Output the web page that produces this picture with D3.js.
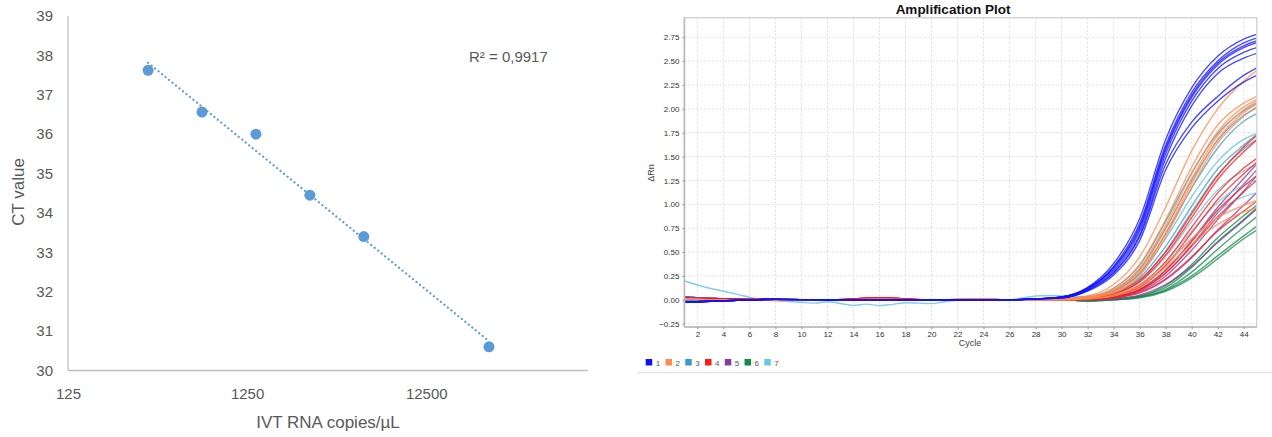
<!DOCTYPE html>
<html lang="en">
<head>
<meta charset="UTF-8">
<title>CT standard curve and amplification plot</title>
<style>
    body { margin: 0; background: #fff; }
    svg { display: block; }
    .xl text, .yl text { font-family: "Liberation Sans", Arial, sans-serif; font-size: 15px; fill: #595959; }
    .ax text { font-family: "Liberation Sans", Arial, sans-serif; font-size: 8px; fill: #333; }
    .grid line { stroke: #dcdcdc; stroke-dasharray: 2,2; }
</style>
</head>
<body>
<svg width="1272" height="437"></svg>
<script src="https://d3js.org/d3.v7.min.js"></script>
<script>
    // ---- left: standard curve ----
    var copies = [350, 700, 1400, 2800, 5600, 28000];
    var ctValues = [37.62, 36.56, 36.0, 34.45, 33.4, 30.6];
    var ctTicks = [30, 31, 32, 33, 34, 35, 36, 37, 38, 39];
    var copyTicks = [125, 1250, 12500];

    // ---- right: amplification plot ----
    var legendIds = [1, 2, 3, 4, 5, 6, 7];
    var groupColors = ["#1010ff", "#ff8a4c", "#3a9cc8", "#ff1a1a", "#8a3b9c", "#138a4a", "#6cc6e6"];

    var baseCycles = [1, 4, 8, 12, 16, 20, 24, 26];
    var ampCycles = [28, 30, 32, 34, 36, 38, 40, 42, 44, 45];

    var base1 = [-0.025, -0.01, 0.005, 0, 0, 0, 0, 0];
    var base2 = [0.01, 0, 0, 0, 0.005, 0, 0.01, 0];
    var base3 = [0, 0, 0, 0, 0, 0, 0, 0];
    var base4 = [0.015, 0.005, 0.005, 0, 0.02, 0, 0, 0];
    var base5 = [0.03, 0.01, 0, 0, 0.01, 0, 0, 0];
    var base6 = [0.005, 0, 0, 0, 0, 0, 0, 0];
    var base7 = [0, 0, 0, 0, 0, 0, 0, 0];

    var curves1 = [
        [0.01, 0.03, 0.13, 0.38, 0.85, 1.68, 2.22, 2.55, 2.73, 2.78],
        [0.01, 0.03, 0.12, 0.35, 0.80, 1.62, 2.17, 2.50, 2.69, 2.74],
        [0.01, 0.03, 0.12, 0.34, 0.77, 1.59, 2.14, 2.48, 2.66, 2.71],
        [0.01, 0.03, 0.12, 0.33, 0.75, 1.57, 2.12, 2.46, 2.64, 2.69],
        [0.01, 0.02, 0.11, 0.31, 0.72, 1.53, 2.08, 2.42, 2.59, 2.64],
        [0.01, 0.02, 0.10, 0.29, 0.68, 1.48, 2.03, 2.37, 2.53, 2.58],
        [0.01, 0.02, 0.10, 0.28, 0.66, 1.42, 1.86, 2.13, 2.35, 2.43],
        [0.01, 0.02, 0.09, 0.26, 0.62, 1.36, 1.80, 2.08, 2.28, 2.35]
    ];
    var curves2 = [
        [0, 0.01, 0.04, 0.16, 0.45, 0.97, 1.56, 2.00, 2.29, 2.40],
        [0, 0.01, 0.03, 0.12, 0.37, 0.84, 1.39, 1.83, 2.06, 2.13],
        [0, 0.01, 0.03, 0.10, 0.33, 0.78, 1.32, 1.76, 2.02, 2.10],
        [0, 0.01, 0.02, 0.09, 0.30, 0.74, 1.27, 1.72, 1.99, 2.08],
        [0, 0, 0.02, 0.08, 0.27, 0.70, 1.22, 1.68, 1.96, 2.05],
        [0, 0, 0.02, 0.07, 0.25, 0.66, 1.18, 1.64, 1.92, 2.02],
        [0, 0, 0.01, 0.05, 0.16, 0.38, 0.64, 0.86, 0.99, 1.04],
        [0, 0, 0.01, 0.04, 0.14, 0.34, 0.58, 0.79, 0.92, 0.96]
    ];
    var curves3 = [
        [0, 0.01, 0.03, 0.12, 0.36, 0.82, 1.33, 1.74, 1.98, 2.06],
        [0, 0.01, 0.02, 0.10, 0.32, 0.75, 1.25, 1.67, 1.93, 2.01],
        [0, 0.01, 0.02, 0.09, 0.28, 0.69, 1.17, 1.59, 1.87, 1.95],
        [0, 0, 0.02, 0.07, 0.23, 0.56, 0.98, 1.37, 1.62, 1.73],
        [0, 0, 0.02, 0.06, 0.20, 0.51, 0.92, 1.31, 1.58, 1.68]
    ];
    var curves4 = [
        [0, 0, 0.02, 0.07, 0.21, 0.50, 0.90, 1.30, 1.60, 1.72],
        [0, 0, 0.02, 0.06, 0.19, 0.47, 0.86, 1.26, 1.55, 1.67],
        [0, 0, 0.01, 0.04, 0.15, 0.40, 0.76, 1.12, 1.38, 1.48],
        [0, 0, 0.01, 0.04, 0.13, 0.36, 0.70, 1.05, 1.32, 1.44],
        [0, 0, 0.01, 0.03, 0.11, 0.31, 0.61, 0.94, 1.19, 1.30],
        [0, 0, 0.01, 0.03, 0.10, 0.28, 0.56, 0.87, 1.13, 1.25],
        [0, 0, 0, 0.02, 0.08, 0.22, 0.45, 0.72, 0.93, 1.03]
    ];
    var curves5 = [
        [0, 0, 0.01, 0.03, 0.11, 0.31, 0.62, 0.97, 1.27, 1.42],
        [0, 0, 0.01, 0.03, 0.10, 0.28, 0.57, 0.91, 1.21, 1.36],
        [0, 0, 0.01, 0.02, 0.09, 0.25, 0.52, 0.84, 1.14, 1.30],
        [0, 0, 0, 0.02, 0.07, 0.21, 0.44, 0.73, 0.99, 1.12],
        [0, 0, 0, 0.01, 0.05, 0.16, 0.35, 0.60, 0.83, 0.95]
    ];
    var curves6 = [
        [0, 0, -0.01, 0.01, 0.04, 0.15, 0.37, 0.65, 0.88, 0.99],
        [0, 0, -0.01, 0.01, 0.04, 0.13, 0.34, 0.61, 0.84, 0.96],
        [0, 0, -0.01, 0, 0.03, 0.11, 0.29, 0.53, 0.76, 0.87],
        [0, 0, -0.01, 0, 0.03, 0.10, 0.25, 0.46, 0.67, 0.77],
        [0, 0, -0.01, 0, 0.02, 0.09, 0.23, 0.43, 0.64, 0.73]
    ];
    var curves7 = [
        [0, 0, 0.01, 0.05, 0.18, 0.45, 0.82, 1.15, 1.35, 1.42],
        [0, 0, 0.01, 0.05, 0.16, 0.40, 0.72, 1.02, 1.20, 1.25],
        [0, 0, 0.01, 0.04, 0.14, 0.36, 0.64, 0.92, 1.08, 1.12]
    ];
    // the one well with a drifting baseline (group 7)
    var driftCycles = [1, 2, 4, 5, 6, 7, 8, 10, 11, 12, 14, 15, 16, 17, 18, 20, 21, 22, 24, 26, 27, 28, 29, 30, 32, 34, 36, 38, 40, 42, 44, 45];
    var driftValues = [0.20, 0.155, 0.09, 0.06, 0.027, 0, -0.01, -0.025, -0.035, -0.02, -0.058, -0.045, -0.06, -0.048, -0.03, -0.04, -0.02, -0.005, -0.005, 0, 0.02, 0.04, 0.045, 0.04, 0.035, 0.09, 0.27, 0.64, 1.08, 1.45, 1.68, 1.74];

    var yTicksR = [-0.25, 0, 0.25, 0.5, 0.75, 1, 1.25, 1.5, 1.75, 2, 2.25, 2.5, 2.75];
    var xTicksR = d3.range(2, 45, 2);

    var svg = d3.select("svg");

    // ================= left chart =================
    var xL = d3.scaleLog().domain([125, 100000]).range([68, 588]);
    var yL = d3.scaleLinear().domain([30, 39]).range([370.5, 16]);

    svg.append("line")
        .attr("x1", 68).attr("x2", 68).attr("y1", yL(39)).attr("y2", yL(30))
        .style("stroke", "#bfbfbf").style("stroke-width", 1.3);
    svg.append("line")
        .attr("x1", xL(125)).attr("x2", xL(100000)).attr("y1", yL(30)).attr("y2", yL(30))
        .style("stroke", "#bfbfbf").style("stroke-width", 1.3);

    svg.append("g").attr("class", "yl")
        .attr("transform", "translate(68,0)")
        .call(d3.axisLeft(yL).tickValues(ctTicks).tickSize(0).tickPadding(15))
        .call(g => g.select(".domain").remove());

    svg.append("g").attr("class", "xl")
        .attr("transform", "translate(0," + yL(30) + ")")
        .call(d3.axisBottom(xL).tickValues(copyTicks).tickFormat(d3.format("d")).tickSize(0).tickPadding(18))
        .call(g => g.select(".domain").remove());

    // least squares trend on log10(copies)
    var lx = copies.map(d => Math.log10(d));
    var mx = d3.mean(lx), my = d3.mean(ctValues);
    var slope = d3.sum(lx, (d, i) => (d - mx) * (ctValues[i] - my)) / d3.sum(lx, d => (d - mx) * (d - mx));
    var trendAt = c => my + slope * (Math.log10(c) - mx);
    var c0 = d3.min(copies), c1 = d3.max(copies);

    svg.append("line")
        .attr("x1", xL(c0)).attr("y1", yL(trendAt(c0)))
        .attr("x2", xL(c1)).attr("y2", yL(trendAt(c1)))
        .style("stroke", "#5b9bd5").style("stroke-width", 2.2)
        .style("stroke-linecap", "round").style("stroke-dasharray", "0.1,4.4");

    svg.selectAll(".pt")
        .data(copies)
        .enter()
        .append("circle")
        .attr("class", "pt")
        .attr("cx", d => xL(d))
        .attr("cy", (d, i) => yL(ctValues[i]))
        .attr("r", 5.5)
        .style("fill", "#5b9bd5");

    svg.append("text")
        .attr("x", 469).attr("y", 62)
        .style("font-family", "Liberation Sans, Arial, sans-serif")
        .style("font-size", "15px").style("fill", "#595959")
        .text("R² = 0,9917");

    svg.append("text")
        .attr("transform", "translate(24,192) rotate(-90)")
        .style("text-anchor", "middle")
        .style("font-family", "Liberation Sans, Arial, sans-serif")
        .style("font-size", "17px").style("fill", "#595959")
        .text("CT value");

    svg.append("text")
        .attr("x", 328).attr("y", 428)
        .style("text-anchor", "middle")
        .style("font-family", "Liberation Sans, Arial, sans-serif")
        .style("font-size", "17px").style("fill", "#595959")
        .text("IVT RNA copies/µL");

    // ================= right chart =================
    var pLeft = 684.4, pRight = 1256.7, pTop = 17.7, pBottom = 327;
    var xR = d3.scaleLinear().domain([1, 45]).range([pLeft, pRight]);
    var yR = d3.scaleLinear().domain([-0.25, 2.75]).range([323.7, 37.2]);

    svg.append("text")
        .attr("x", 953).attr("y", 13.5)
        .style("text-anchor", "middle")
        .style("font-family", "Liberation Sans, Arial, sans-serif")
        .style("font-weight", "bold").style("font-size", "13.5px").style("fill", "#111")
        .text("Amplification Plot");

    var grid = svg.append("g").attr("class", "grid");
    grid.selectAll(".gv").data(xTicksR).enter().append("line")
        .attr("x1", d => xR(d)).attr("x2", d => xR(d)).attr("y1", pTop).attr("y2", pBottom);
    grid.selectAll(".gh").data(yTicksR).enter().append("line")
        .attr("x1", pLeft).attr("x2", pRight).attr("y1", d => yR(d)).attr("y2", d => yR(d));

    svg.append("defs").append("clipPath").attr("id", "plotclip")
        .append("rect").attr("x", pLeft).attr("y", pTop).attr("width", pRight - pLeft).attr("height", pBottom - pTop);

    var line = d3.line()
        .x(d => xR(d[0]))
        .y(d => yR(d[1]))
        .curve(d3.curveMonotoneX);

    var groups = [
        { id: 6, base: base6, curves: curves6 },
        { id: 5, base: base5, curves: curves5 },
        { id: 7, base: base7, curves: curves7 },
        { id: 3, base: base3, curves: curves3 },
        { id: 4, base: base4, curves: curves4 },
        { id: 2, base: base2, curves: curves2 },
        { id: 1, base: base1, curves: curves1 }
    ];

    var plot = svg.append("g").attr("clip-path", "url(#plotclip)");

    plot.append("path")
        .datum(driftCycles.map((c, i) => [c, driftValues[i]]))
        .attr("d", line)
        .style("fill", "none")
        .style("stroke", groupColors[6])
        .style("stroke-width", 1.4)
        .style("stroke-opacity", 0.85);

    groups.forEach(function (g) {
        var pts = g.curves.map(function (vals) {
            return baseCycles.map((c, i) => [c, g.base[i]])
                .concat(ampCycles.map((c, i) => [c, vals[i]]));
        });
        plot.selectAll(".c" + g.id)
            .data(pts)
            .enter()
            .append("path")
            .attr("class", "c" + g.id)
            .attr("d", line)
            .style("fill", "none")
            .style("stroke", groupColors[g.id - 1])
            .style("stroke-width", 1.4)
            .style("stroke-opacity", 0.75);
    });

    // frame
    svg.append("rect")
        .attr("x", pLeft).attr("y", pTop).attr("width", pRight - pLeft).attr("height", pBottom - pTop)
        .style("fill", "none").style("stroke", "#d4d4d4").style("stroke-width", 1.5);
    svg.append("line")
        .attr("x1", pLeft).attr("x2", pLeft).attr("y1", pTop).attr("y2", pBottom)
        .style("stroke", "#b8b8b8").style("stroke-width", 1.5);
    svg.append("line")
        .attr("x1", pLeft).attr("x2", pRight).attr("y1", pBottom).attr("y2", pBottom)
        .style("stroke", "#b8b8b8").style("stroke-width", 1.5);

    svg.append("g").attr("class", "ax")
        .attr("transform", "translate(" + pLeft + ",0)")
        .call(d3.axisLeft(yR).tickValues(yTicksR).tickFormat(d3.format(".2f")).tickSize(2).tickPadding(3))
        .call(g => g.select(".domain").remove())
        .call(g => g.selectAll("line").style("stroke", "#999"));

    svg.append("g").attr("class", "ax")
        .attr("transform", "translate(0," + pBottom + ")")
        .call(d3.axisBottom(xR).tickValues(xTicksR).tickSize(2).tickPadding(2))
        .call(g => g.select(".domain").remove())
        .call(g => g.selectAll("line").style("stroke", "#999"));

    svg.append("text")
        .attr("x", 970).attr("y", 346)
        .style("text-anchor", "middle")
        .style("font-family", "Liberation Sans, Arial, sans-serif")
        .style("font-size", "9px").style("fill", "#444")
        .text("Cycle");

    svg.append("text")
        .attr("transform", "translate(654,173) rotate(-90)")
        .style("text-anchor", "middle")
        .style("font-family", "Liberation Sans, Arial, sans-serif")
        .style("font-size", "9px").style("fill", "#444")
        .text("ΔRn");

    // legend
    var xLeg = d3.scalePoint().domain(legendIds).range([645.7, 764.3]);
    var leg = svg.selectAll(".leg")
        .data(legendIds)
        .enter()
        .append("g")
        .attr("class", "leg")
        .attr("transform", d => "translate(" + xLeg(d) + ",359)");
    leg.append("rect")
        .attr("width", 6.5).attr("height", 6.5)
        .style("fill", (d, i) => groupColors[i]);
    leg.append("text")
        .attr("x", 10).attr("y", 6.5)
        .style("font-family", "Liberation Sans, Arial, sans-serif")
        .style("font-size", "8px").style("fill", "#555")
        .text(d => d);

    svg.append("line")
        .attr("x1", 636.7).attr("x2", 1272).attr("y1", 372.7).attr("y2", 372.7)
        .style("stroke", "#dddddd").style("stroke-width", 1);
</script>
</body>
</html>
